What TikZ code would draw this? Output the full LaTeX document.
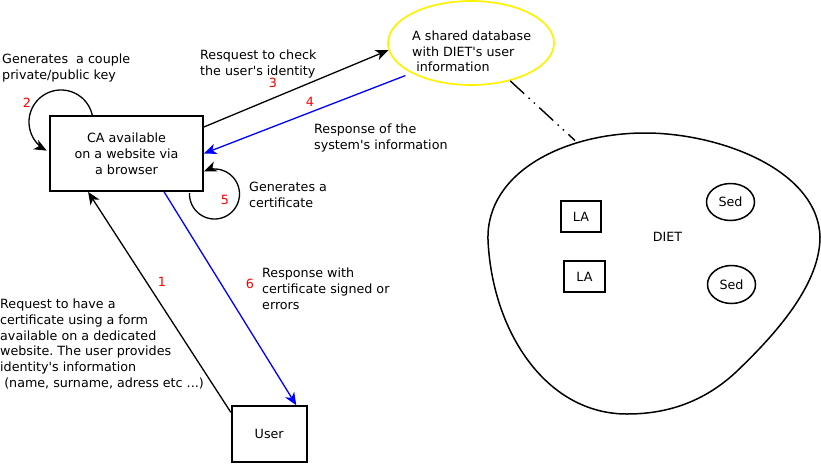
\documentclass[tikz,border=0pt]{standalone}
\usepackage{fontspec}
\setmainfont{DejaVu Sans}[Ligatures=TeXOff]
\usetikzlibrary{arrows.meta,shapes.geometric}
\frenchspacing
\begin{document}
\begin{tikzpicture}[x=1pt,y=-1pt,
  font=\fontsize{12.7}{15.8}\selectfont,
  box/.style={draw, line width=1.8pt, inner sep=0pt, align=center},
  txt/.style={anchor=north west, inner sep=0pt, align=left},
  num/.style={inner sep=0pt, text=red},
  arr/.style={line width=1.3pt, -{Stealth[length=12.5pt,width=10.5pt,inset=3.5pt]}},
  dashdot/.style={line width=1.4pt, dash pattern=on 19pt off 6pt on 1.5pt off 5.5pt on 1.5pt off 6pt}
]
\useasboundingbox (0,0) rectangle (821,463);

% nodes
\node[box, minimum width=153pt, minimum height=75pt] (ca) at (126.5,153.5) {CA available\\on a website via\\a browser};
\node[box, minimum width=75pt, minimum height=56pt] (user) at (269.2,434.2) {User};
\node[draw=yellow, line width=1.7pt, ellipse, minimum width=166pt, minimum height=84pt, inner sep=0pt] (db) at (471,43) {};
\node[txt] (dbtext) at (412,30.4) {A shared database\\with DIET's user\\\hspace{0.32em}information};

% DIET blob
\draw[line width=1.5pt] (488,240) .. controls (486,172) and (565,133) .. (645,133)
  .. controls (720,133) and (818,170) .. (820,237)
  .. controls (820,285) and (775,335) .. (735,373)
  .. controls (700,405) and (662,414) .. (627,414)
  .. controls (545,414) and (492,330) .. (488,240) -- cycle;
\coordinate (blobpt) at (575,140.5);
\node (diet) at (667.5,237) {DIET};
\node[box, minimum width=40pt, minimum height=31.5pt] (la1) at (581,216.5) {LA};
\node[box, minimum width=41pt, minimum height=31.5pt] (la2) at (584.5,276.5) {LA};
\node[draw, ellipse, line width=1.5pt, minimum width=48pt, minimum height=37pt, inner sep=0pt] (sed1) at (730.5,202) {Sed};
\node[draw, ellipse, line width=1.5pt, minimum width=48pt, minimum height=38pt, inner sep=0pt] (sed2) at (731.5,284.5) {Sed};

% text labels
\node[txt] (t2) at (2,53.5) {Generates\ \ a couple\\private/public key};
\node[txt] (t3) at (200,49.7) {Resquest to check\\the user's identity};
\node[txt] (t4) at (314,123.7) {Response of the\\system's information};
\node[txt] (t5) at (249,182.3) {Generates a\\certificate};
\node[txt] (t6) at (262,268.1) {Response with\\certificate signed or\\errors};
\node[txt] (t1) at (0,298.7) {Request to have a\\certificate using a form\\available on a dedicated\\website. The user provides\\identity's information\\\hspace{0.32em}(name, surname, adress etc ...)};

% numbers
\node[num] (n1) at (162,282) {1};
\node[num] (n2) at (27,103) {2};
\node[num] (n3) at (273,83) {3};
\node[num] (n4) at (310,102) {4};
\node[num] (n5) at (225,200) {5};
\node[num] (n6) at (250,284) {6};

% connectors
\draw[arr] ([yshift=-7pt]user.north west) -- ([xshift=39pt]ca.south west);
\draw[arr] ([yshift=26.5pt]ca.east) -- (db.185);
\draw[arr, blue] ([xshift=-5pt,yshift=-3pt]db.206) -- (ca.east);
\draw[arr, blue] ([xshift=115pt]ca.south west) -- ([xshift=65.5pt]user.north west);
\draw[dashdot] (db.316) -- (blobpt);

% loops
\draw[arr] plot[domain=-10.6:-243.4, samples=60, variable=\t] ({61+32*cos(\t)},{122+32*sin(\t)});
\draw[arr] plot[domain=182:-114.6, samples=60, variable=\t] ({214.5+25*cos(\t)},{194+25*sin(\t)});
\end{tikzpicture}
\end{document}
